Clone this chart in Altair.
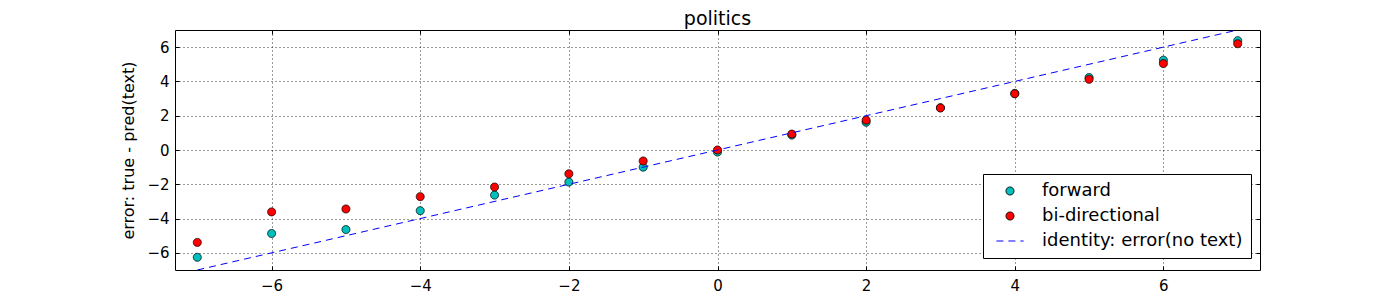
import altair as alt
import pandas as pd

# ---- data ----
x_vals = [-7, -6, -5, -4, -3, -2, -1, 0, 1, 2, 3, 4, 5, 6, 7]
forward_err = [-6.26, -4.87, -4.64, -3.54, -2.63, -1.87, -1.00, -0.12,
               0.87, 1.62, 2.47, 3.30, 4.23, 5.24, 6.38]
bidir_err = [-5.39, -3.61, -3.44, -2.72, -2.16, -1.39, -0.64, 0.00,
             0.93, 1.74, 2.45, 3.28, 4.12, 5.04, 6.20]
identity_x = [-7, 7]
identity_y = [-7, 7]
series_names = ["forward", "bi-directional", "identity: error(no text)"]
x_ticks = [-6, -4, -2, 0, 2, 4, 6]
y_ticks = [-6, -4, -2, 0, 2, 4, 6]

df_f = pd.DataFrame({"x": x_vals, "y": forward_err, "series": series_names[0]})
df_b = pd.DataFrame({"x": x_vals, "y": bidir_err, "series": series_names[1]})
df_i = pd.DataFrame({"x": identity_x, "y": identity_y, "series": series_names[2]})

FONT = "DejaVu Sans"
W, H = 1085, 240

xs = alt.Scale(domain=[-7.3, 7.3], nice=False, zero=False)
ys = alt.Scale(domain=[-7, 7], nice=False, zero=False)

fill_scale = alt.Scale(domain=series_names, range=["#00bfbf", "#ff0000", "transparent"])
stroke_scale = alt.Scale(domain=series_names, range=["black", "black", "#0000ff"])
shape_scale = alt.Scale(domain=series_names, range=["circle", "circle", "M-3.4,0H3.4"])
dash_scale = alt.Scale(domain=series_names, range=[[1, 0], [1, 0], [7, 5]])

leg = alt.Legend(
    title=None, orient="none", legendX=808, legendY=144,
    strokeColor="black", fillColor="white", cornerRadius=0, padding=8,
    labelFont=FONT, labelFontSize=18, labelColor="black", labelOffset=23,
    labelLimit=400, symbolSize=64, symbolStrokeWidth=1, rowPadding=7,
    symbolOffset=10,
)

main_x = alt.Axis(orient="bottom", values=x_ticks, format="d", grid=True,
                  gridColor="black", gridDash=[1, 3], gridWidth=0.8,
                  tickSize=0, labelPadding=8, labelFont=FONT, labelFontSize=15,
                  labelColor="black", domain=False, title=None)
main_y = alt.Axis(orient="left", values=y_ticks, format="d", grid=True,
                  gridColor="black", gridDash=[1, 3], gridWidth=0.8,
                  tickSize=0, labelPadding=6, labelFont=FONT, labelFontSize=15,
                  labelColor="black", domain=False,
                  title="error: true - pred(text)", titleFont=FONT,
                  titleFontSize=16, titleFontWeight="normal", titleColor="black",
                  titleX=-47, titleY=H / 2, titleAngle=270, titleAlign="center",
                  titleBaseline="middle")


def tick_axis(orient, vals):
    return alt.Axis(orient=orient, values=vals, offset=-4, tickSize=4,
                    tickColor="black", labels=False, domain=False, grid=False,
                    title=None)


def enc_points(axx, axy):
    return dict(
        x=alt.X("x:Q", scale=xs, axis=axx),
        y=alt.Y("y:Q", scale=ys, axis=axy),
        fill=alt.Fill("series:N", scale=fill_scale, legend=leg),
        stroke=alt.Stroke("series:N", scale=stroke_scale, legend=leg),
        shape=alt.Shape("series:N", scale=shape_scale, legend=leg),
        strokeDash=alt.StrokeDash("series:N", scale=dash_scale, legend=leg),
    )


fwd = alt.Chart(df_f).mark_point(filled=True, opacity=1, size=64, strokeWidth=0.8).encode(
    **enc_points(main_x, main_y))
bid = alt.Chart(df_b).mark_point(filled=True, opacity=1, size=64, strokeWidth=0.8).encode(
    **enc_points(tick_axis("bottom", x_ticks), tick_axis("left", y_ticks)))
line = alt.Chart(df_i).mark_line(strokeWidth=1).encode(
    x=alt.X("x:Q", scale=xs, axis=tick_axis("top", x_ticks)),
    y=alt.Y("y:Q", scale=ys, axis=tick_axis("right", y_ticks)),
    stroke=alt.Stroke("series:N", scale=stroke_scale, legend=leg),
    strokeDash=alt.StrokeDash("series:N", scale=dash_scale, legend=leg),
)

chart = alt.layer(fwd, bid, line).resolve_axis(
    x="independent", y="independent"
).properties(
    width=W, height=H,
    title=alt.Title("politics", font=FONT, fontSize=19, fontWeight="normal",
                    color="black", anchor="middle", offset=0, dy=16,
                    baseline="alphabetic"),
    autosize=alt.AutoSizeParams(type="none"),
    padding={"left": 167, "top": 22, "right": 20, "bottom": 30},
    background="white",
).configure_view(stroke="black", strokeWidth=1)

chart.save("out.html", embed_options={"renderer": "svg", "actions": False})
